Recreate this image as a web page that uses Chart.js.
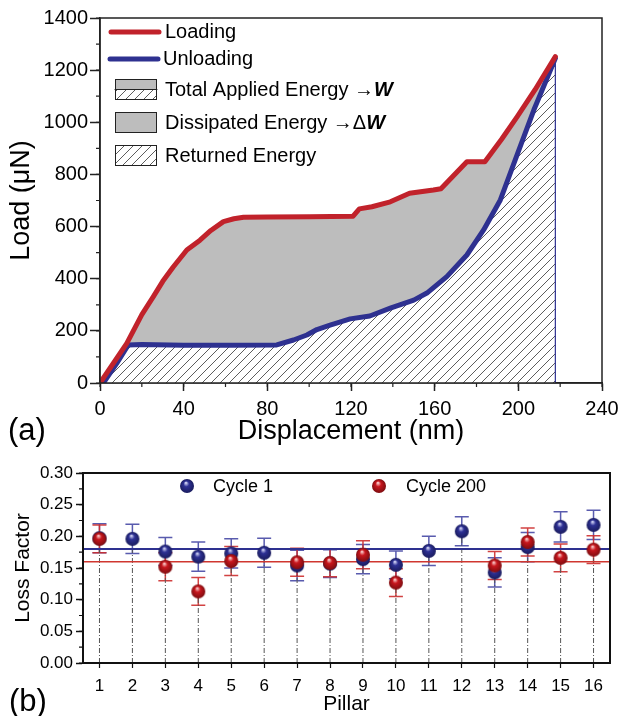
<!DOCTYPE html>
<html>
<head>
<meta charset="utf-8">
<script src="https://cdn.jsdelivr.net/npm/chart.js@4.4.1/dist/chart.umd.min.js"></script>
<style>
  html, body { margin: 0; padding: 0; background: #fff; }
  #top { position: absolute; left: 0; top: 0; }
  #bottom { position: absolute; left: 0; top: 445px; }
  .panel { position: absolute; font-family: 'Liberation Sans', Arial, sans-serif; font-size: 31px; color: #000; }
</style>
</head>
<body>
<canvas id="top" width="630" height="445"></canvas>
<canvas id="bottom" width="630" height="271"></canvas>
<div class="panel" style="left:8px; top:412px;">(a)</div>
<div class="panel" style="left:9px; top:683px;">(b)</div>
<script>
const FONT = "'Liberation Sans', Arial, sans-serif";

// ---- panel (a): load vs displacement ----
const loadX = [0, 12.8, 20, 25.5, 30, 35, 41.5, 47.8, 53, 59, 64, 68.6, 80, 100, 121, 124, 130, 138.8, 148, 159.4, 163, 175.4, 184, 192, 199.4, 208, 217.7];
const loadY = [0, 152, 262, 331, 390, 445, 510, 548, 585, 619, 630, 636, 637, 638, 640, 668, 676, 695, 728, 740, 745, 849, 849, 935, 1021, 1125, 1252];
const unloadX = [1.6, 8, 13.5, 20, 40, 60, 84.5, 92.5, 98.9, 103.7, 110, 119.6, 129, 138.8, 150, 156.3, 165.8, 175.4, 183.4, 191.4, 199.4, 207.4, 217.7];
const unloadY = [0, 75, 146, 148, 145, 145, 146, 165, 184, 205, 222, 246, 257, 287, 318, 345, 408, 491, 587, 702, 875, 1047, 1245];

// ---- panel (b): loss factor per pillar ----
const pillars = [1, 2, 3, 4, 5, 6, 7, 8, 9, 10, 11, 12, 13, 14, 15, 16];
const cycle1 = [0.197, 0.196, 0.176, 0.168, 0.173, 0.174, 0.154, 0.157, 0.164, 0.155, 0.177, 0.208, 0.143, 0.183, 0.215, 0.218];
const cycle1Err = [0.023, 0.023, 0.022, 0.023, 0.023, 0.023, 0.024, 0.022, 0.023, 0.022, 0.023, 0.023, 0.023, 0.023, 0.024, 0.023];
const cycle200 = [0.196, null, 0.152, 0.113, 0.161, null, 0.159, 0.158, 0.171, 0.127, null, null, 0.154, 0.191, 0.166, 0.179];
const cycle200Err = [0.022, null, 0.022, 0.022, 0.023, null, 0.022, 0.022, 0.022, 0.022, null, null, 0.022, 0.022, 0.022, 0.022];
const mean1 = 0.18;
const mean200 = 0.16;

const RED = '#c1222b';
const BLUE = '#2e3190';
const GREY = '#bdbdbd';

function makeHatch(bg) {
  const c = document.createElement('canvas');
  c.width = 9; c.height = 9;
  const g = c.getContext('2d');
  g.fillStyle = bg; g.fillRect(0, 0, 9, 9);
  g.strokeStyle = '#333'; g.lineWidth = 0.8;
  g.beginPath();
  g.moveTo(0, 9); g.lineTo(9, 0);
  g.moveTo(-1, 1); g.lineTo(1, -1);
  g.moveTo(8, 10); g.lineTo(10, 8);
  g.stroke();
  return g.createPattern(c, 'repeat');
}
const hatch = makeHatch('#ffffff');

function sphere(base, light, dark, r) {
  const c = document.createElement('canvas');
  const d = r * 2 + 2;
  c.width = d; c.height = d;
  const g = c.getContext('2d');
  const grad = g.createRadialGradient(d / 2 - r * 0.15, d / 2 - r * 0.45, r * 0.08, d / 2, d / 2, r);
  grad.addColorStop(0, light);
  grad.addColorStop(0.35, base);
  grad.addColorStop(1, dark);
  g.fillStyle = grad;
  g.beginPath(); g.arc(d / 2, d / 2, r, 0, Math.PI * 2); g.fill();
  return c;
}
const blueBall = sphere('#2d3094', '#c9cbf0', '#1a1c5e', 7);
const redBall = sphere('#c8161d', '#f7c2c2', '#7e0d10', 7);

// shared helpers
const frameBox = {
  id: 'frameBox',
  afterDraw(chart, args, opts) {
    const a = chart.chartArea, ctx = chart.ctx;
    ctx.save();
    ctx.strokeStyle = opts.color; ctx.lineWidth = opts.width;
    ctx.strokeRect(a.left, a.top, a.right - a.left, a.bottom - a.top);
    ctx.restore();
  }
};

const minorTicks = {
  id: 'minorTicks',
  afterDraw(chart, args, opts) {
    const ctx = chart.ctx, xs = chart.scales.x, ys = chart.scales.y;
    ctx.save();
    ctx.strokeStyle = opts.color; ctx.lineWidth = opts.width;
    ctx.beginPath();
    if (opts.xStep) {
      for (let v = xs.min; v <= xs.max + 1e-9; v += opts.xStep) {
        const p = xs.getPixelForValue(v);
        ctx.moveTo(p, xs.top); ctx.lineTo(p, xs.top + opts.len);
      }
    }
    if (opts.yStep) {
      for (let v = ys.min; v <= ys.max + 1e-9; v += opts.yStep) {
        const p = ys.getPixelForValue(v);
        ctx.moveTo(ys.right, p); ctx.lineTo(ys.right - opts.len, p);
      }
    }
    ctx.stroke();
    ctx.restore();
  }
};

// legend of panel (a)
const energyLegend = {
  id: 'energyLegend',
  afterDraw(chart) {
    const ctx = chart.ctx;
    ctx.save();
    ctx.lineCap = 'round';
    ctx.lineWidth = 5;
    ctx.strokeStyle = RED;
    ctx.beginPath(); ctx.moveTo(111, 32); ctx.lineTo(159, 32); ctx.stroke();
    ctx.strokeStyle = BLUE;
    ctx.beginPath(); ctx.moveTo(110, 59); ctx.lineTo(158, 59); ctx.stroke();

    ctx.lineWidth = 1; ctx.strokeStyle = '#222';
    // total: grey over hatch
    ctx.fillStyle = GREY; ctx.fillRect(115, 79, 42, 10);
    ctx.fillStyle = hatch; ctx.fillRect(115, 89, 42, 10);
    ctx.strokeRect(115.5, 79.5, 41, 20);
    ctx.beginPath(); ctx.moveTo(115, 89.5); ctx.lineTo(157, 89.5); ctx.stroke();
    // dissipated
    ctx.fillStyle = GREY; ctx.fillRect(115, 112, 42, 20);
    ctx.strokeRect(115.5, 112.5, 41, 20);
    // returned
    ctx.fillStyle = hatch; ctx.fillRect(115, 145, 42, 20);
    ctx.strokeRect(115.5, 145.5, 41, 20);

    ctx.fillStyle = '#000';
    ctx.textBaseline = 'middle';
    ctx.font = '20px ' + FONT;
    ctx.fillText('Loading', 165, 32);
    ctx.fillText('Unloading', 163, 59);
    let t = 'Total Applied Energy \u2192';
    ctx.fillText(t, 165, 90);
    let w = ctx.measureText(t).width;
    ctx.font = 'italic bold 20px ' + FONT;
    ctx.fillText('W', 165 + w, 90);
    ctx.font = '20px ' + FONT;
    t = 'Dissipated Energy \u2192\u0394';
    ctx.fillText(t, 165, 123);
    w = ctx.measureText(t).width;
    ctx.font = 'italic bold 20px ' + FONT;
    ctx.fillText('W', 165 + w, 123);
    ctx.font = '20px ' + FONT;
    ctx.fillText('Returned Energy', 165, 156);
    ctx.restore();
  }
};

const loadPts = loadX.map((x, i) => ({ x, y: loadY[i] }));
const unloadPts = unloadX.map((x, i) => ({ x, y: unloadY[i] }));
const lastX = loadX[loadX.length - 1];
const lastY = loadY[loadY.length - 1];

new Chart(document.getElementById('top'), {
  type: 'scatter',
  data: {
    datasets: [
      {
        label: 'Loading', data: loadPts, showLine: true, order: 0,
        borderColor: RED, borderWidth: 5, pointRadius: 0,
        borderJoinStyle: 'round', borderCapStyle: 'round',
        fill: { target: 1 }, backgroundColor: GREY
      },
      {
        label: 'Unloading', data: unloadPts, showLine: true, order: 1,
        borderColor: BLUE, borderWidth: 5, pointRadius: 0,
        borderJoinStyle: 'round', borderCapStyle: 'round',
        fill: 'origin', backgroundColor: hatch
      },
      {
        label: 'edge', data: [{ x: lastX, y: 0 }, { x: lastX, y: lastY }], showLine: true, order: 2,
        borderColor: BLUE, borderWidth: 1.2, pointRadius: 0, fill: false
      }
    ]
  },
  options: {
    responsive: false,
    animation: false,
    layout: { padding: { left: 0, top: 18, right: 28, bottom: 0 } },
    plugins: {
      legend: { display: false },
      tooltip: { enabled: false },
      filler: { drawTime: 'beforeDatasetsDraw' },
      frameBox: { color: '#222', width: 1.5 },
      minorTicks: { color: '#222', width: 1.2, len: 4, xStep: 20, yStep: 100 }
    },
    scales: {
      x: {
        type: 'linear', min: 0, max: 240,
        ticks: { stepSize: 40, color: '#000', font: { family: FONT, size: 20 }, padding: 6, maxRotation: 0 },
        grid: { drawOnChartArea: false, tickLength: 8, tickColor: '#222', tickWidth: 1.5 },
        border: { color: '#222', width: 1.5 },
        title: { display: true, text: 'Displacement (nm)', color: '#000', font: { family: FONT, size: 27, lineHeight: 1 }, padding: { top: 0, bottom: 0 } },
        afterFit: s => { s.height = 62; }
      },
      y: {
        min: 0, max: 1400,
        ticks: { stepSize: 200, color: '#000', font: { family: FONT, size: 20 }, padding: 2, callback: v => String(v) },
        grid: { drawOnChartArea: false, tickLength: 10, tickColor: '#222', tickWidth: 1.5 },
        border: { color: '#222', width: 1.5 },
        title: { display: true, text: 'Load (\u03bcN)', color: '#000', font: { family: FONT, size: 27, lineHeight: 1 }, padding: { top: 8, bottom: 0 } },
        afterFit: s => { s.width = 100; }
      }
    }
  },
  plugins: [frameBox, minorTicks, energyLegend]
});

// ---- panel (b) ----
const errorBars = {
  id: 'errorBars',
  beforeDatasetsDraw(chart, args, opts) {
    const ctx = chart.ctx, xs = chart.scales.x, ys = chart.scales.y;
    ctx.save();
    ctx.lineWidth = 1.5;
    opts.sets.forEach(set => {
      ctx.strokeStyle = set.color;
      ctx.beginPath();
      pillars.forEach((p, i) => {
        const v = set.values[i], e = set.errors[i];
        if (v == null || e == null) return;
        const x = xs.getPixelForValue(p);
        const yt = ys.getPixelForValue(v + e), yb = ys.getPixelForValue(v - e);
        ctx.moveTo(x, yt); ctx.lineTo(x, yb);
        ctx.moveTo(x - 7, yt); ctx.lineTo(x + 7, yt);
        ctx.moveTo(x - 7, yb); ctx.lineTo(x + 7, yb);
      });
      ctx.stroke();
    });
    ctx.restore();
  }
};

const cycleLegend = {
  id: 'cycleLegend',
  afterDraw(chart) {
    const ctx = chart.ctx;
    ctx.save();
    ctx.drawImage(blueBall, 187 - 8, 41 - 8);
    ctx.drawImage(redBall, 379 - 8, 41 - 8);
    ctx.fillStyle = '#000';
    ctx.textBaseline = 'middle';
    ctx.font = '18px ' + FONT;
    ctx.fillText('Cycle 1', 213, 42);
    ctx.fillText('Cycle 200', 406, 42);
    ctx.restore();
  }
};

const dropLines = [];
pillars.forEach((p, i) => {
  const vals = [cycle1[i], cycle200[i]].filter(v => v != null);
  dropLines.push({ x: p, y: 0 }, { x: p, y: Math.min(...vals) }, { x: p, y: null });
});
const xMin = 0.5, xMax = 16.5;

new Chart(document.getElementById('bottom'), {
  type: 'scatter',
  data: {
    datasets: [
      {
        label: 'Cycle 200', order: 0,
        data: pillars.map((p, i) => ({ x: p, y: cycle200[i] })),
        pointStyle: redBall, pointRadius: 7
      },
      {
        label: 'Cycle 1', order: 1,
        data: pillars.map((p, i) => ({ x: p, y: cycle1[i] })),
        pointStyle: blueBall, pointRadius: 7
      },
      {
        label: 'mean 1', order: 2, showLine: true,
        data: [{ x: xMin, y: mean1 }, { x: xMax, y: mean1 }],
        borderColor: BLUE, borderWidth: 2, pointRadius: 0
      },
      {
        label: 'mean 200', order: 3, showLine: true,
        data: [{ x: xMin, y: mean200 }, { x: xMax, y: mean200 }],
        borderColor: '#d0362f', borderWidth: 1.5, pointRadius: 0
      },
      {
        label: 'drops', order: 4, showLine: true, spanGaps: false,
        data: dropLines,
        borderColor: '#555', borderWidth: 1, borderDash: [5, 2, 1, 2], pointRadius: 0
      }
    ]
  },
  options: {
    responsive: false,
    animation: false,
    layout: { padding: { left: 0, top: 28, right: 20, bottom: 0 } },
    plugins: {
      legend: { display: false },
      tooltip: { enabled: false },
      frameBox: { color: '#111', width: 2 },
      minorTicks: { color: '#111', width: 1.2, len: 4, yStep: 0.025 },
      errorBars: {
        sets: [
          { values: cycle1, errors: cycle1Err, color: 'rgba(60,62,160,0.85)' },
          { values: cycle200, errors: cycle200Err, color: 'rgba(205,45,45,0.9)' }
        ]
      }
    },
    scales: {
      x: {
        type: 'linear', min: xMin, max: xMax,
        afterBuildTicks: s => { s.ticks = pillars.map(v => ({ value: v })); },
        ticks: { color: '#000', font: { family: FONT, size: 17 }, padding: 8, maxRotation: 0, autoSkip: false },
        grid: { drawOnChartArea: false, tickLength: 5, tickColor: '#111', tickWidth: 1.2 },
        border: { color: '#111', width: 2 },
        title: { display: true, text: 'Pillar', color: '#000', font: { family: FONT, size: 21, lineHeight: 1 }, padding: { top: 0, bottom: 1 } },
        afterFit: s => { s.height = 53; }
      },
      y: {
        min: 0, max: 0.30,
        ticks: { stepSize: 0.05, color: '#000', font: { family: FONT, size: 17 }, padding: 3, callback: v => v.toFixed(2) },
        grid: { drawOnChartArea: false, tickLength: 7, tickColor: '#111', tickWidth: 1.5 },
        border: { color: '#111', width: 2 },
        title: { display: true, text: 'Loss Factor', color: '#000', font: { family: FONT, size: 21, lineHeight: 1 }, padding: { top: 13, bottom: 0 } },
        afterFit: s => { s.width = 83; }
      }
    }
  },
  plugins: [frameBox, minorTicks, errorBars, cycleLegend]
});
</script>
</body>
</html>
